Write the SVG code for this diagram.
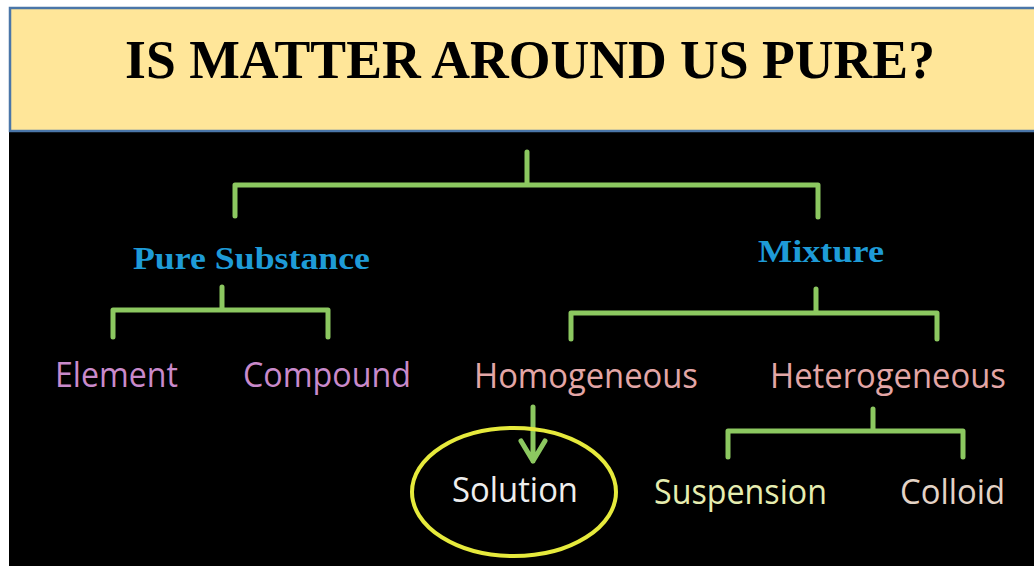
<svg xmlns="http://www.w3.org/2000/svg" width="1034" height="566" viewBox="0 0 1034 566">
<style>
.ln{stroke:#8cc860;stroke-width:5;fill:none;stroke-linecap:round;stroke-linejoin:round}
.hd{font-family:"Liberation Serif","Times New Roman",serif;font-weight:bold;fill:#1e9bd7;font-size:32px}
.lb{font-family:"Open Sans","Noto Sans",sans-serif;font-size:34px}
</style>
<rect x="0" y="0" width="1034" height="566" fill="#ffffff"/>
<rect x="9" y="132" width="1030" height="440" fill="#000000"/>
<g id="title">
<rect x="10" y="8" width="1030" height="123" fill="#ffe699" stroke="#4a76a8" stroke-width="2.5"/>
<text x="125" y="78" font-family="'Liberation Serif','Times New Roman',serif" font-weight="bold" font-size="55" fill="#000" textLength="810" lengthAdjust="spacingAndGlyphs">IS MATTER AROUND US PURE?</text>
</g>
<g id="connectors">
<path class="ln" d="M527 152V185M235 216V185H818V217"/>
<path class="ln" d="M222 287V310M113 337V310H328V337"/>
<path class="ln" d="M816 289V313M571 339V313H937V339"/>
<path class="ln" d="M873 409V431M728 457V431H963V457"/>
<path class="ln" d="M533 407V461M521 441L533 461L545 441"/>
</g>
<g id="pure-substance"><text class="hd" x="133" y="269" textLength="237" lengthAdjust="spacingAndGlyphs">Pure Substance</text></g>
<g id="mixture"><text class="hd" x="758" y="262" textLength="126" lengthAdjust="spacingAndGlyphs">Mixture</text></g>
<g id="element"><text class="lb" x="55" y="387" fill="#c98acb" textLength="123" lengthAdjust="spacingAndGlyphs">Element</text></g>
<g id="compound"><text class="lb" x="243" y="387" fill="#c98acb" textLength="168" lengthAdjust="spacingAndGlyphs">Compound</text></g>
<g id="homogeneous"><text class="lb" x="474" y="388" fill="#e3a6a6" textLength="224" lengthAdjust="spacingAndGlyphs">Homogeneous</text></g>
<g id="heterogeneous"><text class="lb" x="770" y="388" fill="#e3a6a6" textLength="236" lengthAdjust="spacingAndGlyphs">Heterogeneous</text></g>
<g id="solution">
<ellipse cx="514" cy="492" rx="102" ry="64" fill="none" stroke="#e6ea3c" stroke-width="4"/>
<text class="lb" x="452" y="502" fill="#eeeeee" textLength="126" lengthAdjust="spacingAndGlyphs">Solution</text>
</g>
<g id="suspension"><text class="lb" x="654" y="504" fill="#e6edb0" textLength="173" lengthAdjust="spacingAndGlyphs">Suspension</text></g>
<g id="colloid"><text class="lb" x="900" y="504" fill="#e3d3c6" textLength="105" lengthAdjust="spacingAndGlyphs">Colloid</text></g>
</svg>
